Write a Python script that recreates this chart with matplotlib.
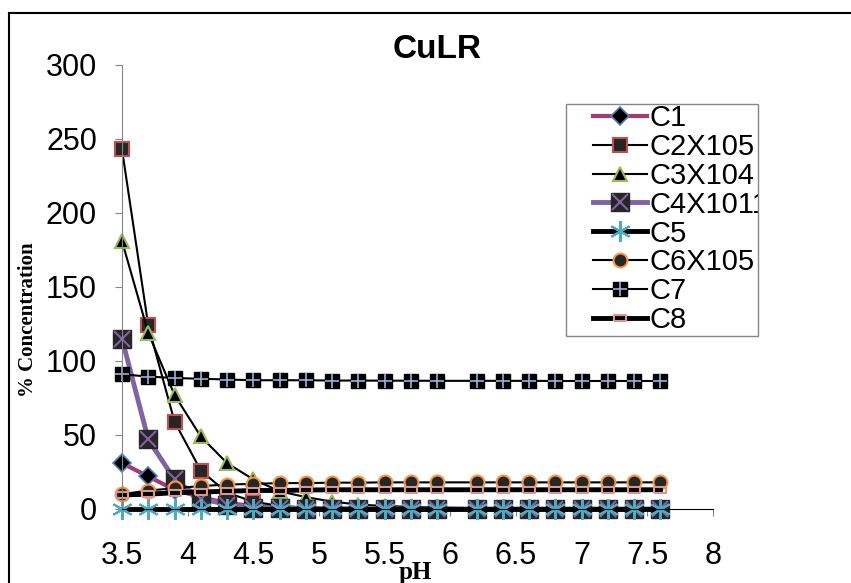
import numpy as np
import matplotlib
matplotlib.use("Agg")
import matplotlib.pyplot as plt
from matplotlib.lines import Line2D
from matplotlib.patches import Rectangle
from matplotlib.transforms import Bbox

# dane
ph = [3.5, 3.7, 3.9, 4.1, 4.3, 4.5, 4.7, 4.9, 5.1, 5.3, 5.5, 5.7, 5.9,
      6.2, 6.4, 6.6, 6.8, 7.0, 7.2, 7.4, 7.6]
c1 = [31, 22, 13, 8, 4, 2, 1, 0.5, 0.3, 0.2, 0.1, 0.1, 0.1,
      0, 0, 0, 0, 0, 0, 0, 0]
c2 = [243, 124, 59, 26, 11, 5, 2, 1, 0.5, 0.3, 0.2, 0.1, 0.1,
      0, 0, 0, 0, 0, 0, 0, 0]
c3 = [181, 119, 77, 49, 31, 20, 12, 8, 5, 3, 2, 1.5, 1,
      0.5, 0.4, 0.3, 0.2, 0.2, 0.1, 0.1, 0.1]
c4 = [115, 47, 20, 7, 3, 1, 0.5, 0.2, 0.1, 0, 0, 0, 0,
      0, 0, 0, 0, 0, 0, 0, 0]
c5 = [0] * 21
c6 = [10, 12.5, 14, 15.5, 16.5, 17, 17.5, 17.5, 17.8, 17.8, 18, 18, 18,
      18, 18, 18, 18, 18, 18, 18, 18]
c7 = [91, 89.5, 88.5, 88, 87.5, 87, 87, 87, 86.8, 86.8, 86.7, 86.7, 86.6,
      86.6, 86.6, 86.6, 86.5, 86.5, 86.5, 86.5, 86.5]
c8 = [9.5, 10, 11, 11.5, 12, 12.5, 12.5, 12.8, 13, 13, 13, 13, 13,
      13, 13, 13, 13, 13, 13, 13, 13]
nazwy = ["C1", "C2X105", "C3X104", "C4X1011", "C5", "C6X105", "C7", "C8"]

x_ticks = [3.5, 4, 4.5, 5, 5.5, 6, 6.5, 7, 7.5, 8]
y_ticks = [0, 50, 100, 150, 200, 250, 300]

plt.rcParams["font.family"] = ["Liberation Sans", "DejaVu Sans"]

W, H = 851, 583
fig = plt.figure(figsize=(W / 100, H / 100), dpi=100)
ax = fig.add_axes([122 / W, 1 - 509 / H, (713 - 122) / W, (509 - 65) / H])

prostokat = [(-1, -0.55), (1, -0.55), (1, 0.55), (-1, 0.55), (-1, -0.55)]

l1, = ax.plot(ph, c1, color="#A23B72", lw=3, marker="D", ms=9,
              mfc="black", mec="#4F81BD", mew=1.2, clip_on=False)
l2, = ax.plot(ph, c2, color="black", lw=1.5, marker="s", ms=10,
              mfc="#262626", mec="#C0504D", mew=1.5, clip_on=False)
l3, = ax.plot(ph, c3, color="black", lw=1.5, marker="^", ms=10,
              mfc="black", mec="#9BBB59", mew=1.5, clip_on=False)
l4a, = ax.plot(ph, c4, color="#8064A2", lw=3.5, marker="s", ms=13,
               mfc="#262626", mec="#262626", clip_on=False)
l4b, = ax.plot(ph, c4, ls="none", marker="x", ms=12, mec="#8064A2",
               mew=1.5, clip_on=False)
l5, = ax.plot(ph, c5, color="black", lw=3.5, marker=(6, 2, 0), ms=15,
              mec="#4BACC6", mew=1.5, clip_on=False)
l6, = ax.plot(ph, c6, color="black", lw=1.5, marker="o", ms=10,
              mfc="#262626", mec="#F79646", mew=1.5, clip_on=False)
l7a, = ax.plot(ph, c7, color="black", lw=1.5, marker="s", ms=10,
               mfc="black", mec="black", clip_on=False)
l7b, = ax.plot(ph, c7, ls="none", marker="+", ms=10, mec="#95B3D7",
               mew=1.2, clip_on=False)
l8, = ax.plot(ph, c8, color="black", lw=3.5, marker=prostokat, ms=8,
              mfc="none", mec="#D99694", mew=1.5, clip_on=False)

ax.set_xlim(3.5, 8)
ax.set_ylim(0, 300)
ax.set_xticks(x_ticks)
ax.set_xticklabels(["%g" % t for t in x_ticks])
ax.set_yticks(y_ticks)

for s in ["top", "right"]:
    ax.spines[s].set_visible(False)
ax.spines["left"].set_color("#868686")
ax.spines["bottom"].set_color("black")
ax.tick_params(axis="both", labelsize=22, colors="#868686", labelcolor="black",
               direction="out", length=5)
ax.tick_params(axis="x", pad=18)
ax.tick_params(axis="y", pad=13)

fig.text(437 / W, 1 - 50 / H, "CuLR", ha="center", va="center",
         fontsize=24, fontweight="bold")
fig.text(415 / W, 1 - 572 / H, "pH", ha="center", va="center",
         fontsize=18, fontweight="bold", family="Liberation Serif")
fig.text(28 / W, 1 - 320 / H, "% Concentration", ha="center", va="center",
         rotation=90, fontsize=15, fontweight="bold", family="Liberation Serif")

# ramka legendy
fig.add_artist(Rectangle((566 / W, 1 - 336 / H), (758 - 566) / W, (336 - 104) / H,
                         transform=fig.transFigure, fill=False,
                         edgecolor="#868686", lw=1))
leg = ax.legend([l1, l2, l3, (l4a, l4b), l5, l6, (l7a, l7b), l8], nazwy,
                loc="upper left", bbox_to_anchor=(593 / W, 1 - 104 / H),
                bbox_transform=fig.transFigure, fontsize=21, frameon=False,
                handlelength=1.85, handletextpad=0.1, labelspacing=0.03,
                borderpad=0, borderaxespad=0)
obciecie = Bbox.from_extents(0, 0, 758, H)
for t in leg.get_texts():
    t.set_clip_box(obciecie)
    t.set_clip_on(True)

# ramka wokol calego wykresu
fig.add_artist(Line2D([9 / W, 9 / W], [0, 1 - 13 / H], color="black",
                      lw=1.5, transform=fig.transFigure))
fig.add_artist(Line2D([9 / W, 1], [1 - 13 / H, 1 - 13 / H], color="black",
                      lw=1.5, transform=fig.transFigure))

fig.savefig("out.png", dpi=100)
